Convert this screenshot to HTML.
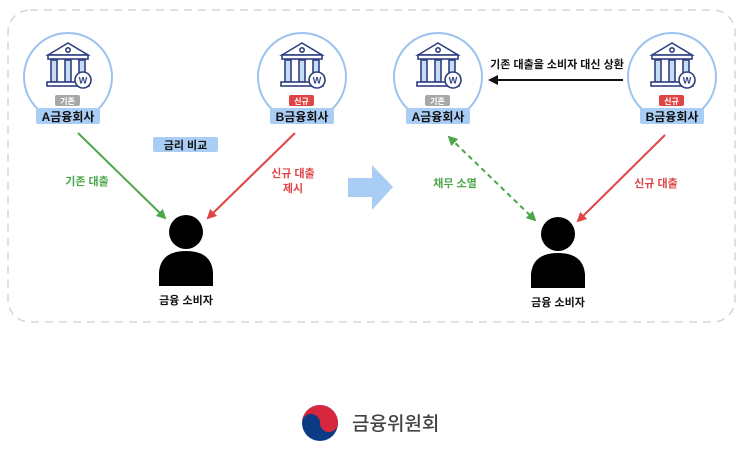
<!DOCTYPE html>
<html><head><meta charset="utf-8"><style>
html,body{margin:0;padding:0;background:#fff;width:743px;height:453px;overflow:hidden}
text{font-family:"Liberation Sans","Noto Sans CJK KR",sans-serif;font-weight:bold}
</style></head><body>
<svg width="743" height="453" viewBox="0 0 743 453" xmlns="http://www.w3.org/2000/svg">
<defs>
<g id="bank" fill="none" stroke="#2e3f80" stroke-width="1.6">
 <path d="M-20,-20 L0,-32 L20,-20 Z" fill="#fff"/>
 <circle cx="0" cy="-25" r="2.2"/>
 <rect x="-20" y="-20" width="40" height="4" fill="#fff"/>
 <rect x="-17" y="-15" width="6" height="22" fill="#c9dcf5"/>
 <rect x="-3" y="-15" width="6" height="22" fill="#c9dcf5"/>
 <rect x="11" y="-15" width="6" height="22" fill="#c9dcf5"/>
 <rect x="-21" y="7" width="42" height="4" fill="#fff"/>
 <circle cx="15" cy="5" r="8" fill="#fff"/>
 <text x="15" y="8.5" font-size="9" fill="#2e3f80" stroke="none" text-anchor="middle">W</text>
</g>
<marker id="ag" markerWidth="10" markerHeight="10" refX="8" refY="5" orient="auto" markerUnits="userSpaceOnUse"><path d="M0,0 L10,5 L0,10 Z" fill="#4ca64a"/></marker>
<marker id="agS" markerWidth="10" markerHeight="10" refX="2" refY="5" orient="auto" markerUnits="userSpaceOnUse"><path d="M10,0 L0,5 L10,10 Z" fill="#4ca64a"/></marker>
<marker id="ar" markerWidth="10" markerHeight="10" refX="8" refY="5" orient="auto" markerUnits="userSpaceOnUse"><path d="M0,0 L10,5 L0,10 Z" fill="#e04545"/></marker>
<marker id="ak" markerWidth="10" markerHeight="10" refX="8" refY="5" orient="auto" markerUnits="userSpaceOnUse"><path d="M0,0 L10,5 L0,10 Z" fill="#111"/></marker>
</defs>
<rect x="8" y="10" width="727" height="312" rx="22" fill="none" stroke="#d6d6d6" stroke-width="1.5" stroke-dasharray="8,6"/>

<!-- left panel -->
<circle cx="68" cy="77" r="44" fill="#fff" stroke="#9cc3ef" stroke-width="2"/>
<use href="#bank" x="68" y="75"/>
<rect x="55" y="95" width="25" height="11" rx="2" fill="#a8a8a8"/>
<text x="67.5" y="104" font-size="8" fill="#fff" text-anchor="middle">기존</text>
<rect x="36" y="108" width="64" height="16" rx="2" fill="#a9cdf5"/>
<text x="68" y="121" font-size="12" fill="#111" text-anchor="middle">A금융회사</text>

<circle cx="302" cy="77" r="44" fill="#fff" stroke="#9cc3ef" stroke-width="2"/>
<use href="#bank" x="302" y="75"/>
<rect x="289" y="95" width="25" height="11" rx="2" fill="#e04545"/>
<text x="301.5" y="104" font-size="8" fill="#fff" text-anchor="middle">신규</text>
<rect x="270" y="108" width="64" height="16" rx="2" fill="#a9cdf5"/>
<text x="302" y="121" font-size="12" fill="#111" text-anchor="middle">B금융회사</text>

<rect x="153" y="137" width="65" height="15" rx="2" fill="#a9cdf5"/>
<text x="185.5" y="149" font-size="11" fill="#111" text-anchor="middle">금리 비교</text>

<line x1="78" y1="133" x2="165" y2="218" stroke="#4ca64a" stroke-width="2" marker-end="url(#ag)"/>
<line x1="295" y1="133" x2="208" y2="218" stroke="#e04545" stroke-width="2" marker-end="url(#ar)"/>
<text x="87" y="185" font-size="11" fill="#4ca64a" text-anchor="middle">기존 대출</text>
<text x="293" y="177" font-size="11" fill="#e04545" text-anchor="middle">신규 대출</text>
<text x="293" y="192" font-size="11" fill="#e04545" text-anchor="middle">제시</text>

<circle cx="186" cy="232" r="17" fill="#000"/>
<path d="M158,287 L158,272 Q160,250 186,250 Q212,250 214,272 L214,287 Z" fill="#000" stroke="#fff" stroke-width="2"/>
<text x="186" y="304" font-size="11" fill="#111" text-anchor="middle">금융 소비자</text>

<!-- big arrow -->
<path d="M348,178 L372,178 L372,165 L393,187 L372,210 L372,197 L348,197 Z" fill="#a9cdf5"/>

<!-- right panel -->
<circle cx="438" cy="77" r="44" fill="#fff" stroke="#9cc3ef" stroke-width="2"/>
<use href="#bank" x="438" y="75"/>
<rect x="425" y="95" width="25" height="11" rx="2" fill="#a8a8a8"/>
<text x="437.5" y="104" font-size="8" fill="#fff" text-anchor="middle">기존</text>
<rect x="406" y="108" width="64" height="16" rx="2" fill="#a9cdf5"/>
<text x="438" y="121" font-size="12" fill="#111" text-anchor="middle">A금융회사</text>

<circle cx="672" cy="77" r="44" fill="#fff" stroke="#9cc3ef" stroke-width="2"/>
<use href="#bank" x="672" y="75"/>
<rect x="659" y="95" width="25" height="11" rx="2" fill="#e04545"/>
<text x="671.5" y="104" font-size="8" fill="#fff" text-anchor="middle">신규</text>
<rect x="640" y="108" width="64" height="16" rx="2" fill="#a9cdf5"/>
<text x="672" y="121" font-size="12" fill="#111" text-anchor="middle">B금융회사</text>

<line x1="623" y1="80" x2="490" y2="80" stroke="#111" stroke-width="2" marker-end="url(#ak)"/>
<text x="557" y="68" font-size="11" fill="#111" text-anchor="middle">기존 대출을 소비자 대신 상환</text>

<line x1="449" y1="137" x2="535" y2="220" stroke="#4ca64a" stroke-width="2" stroke-dasharray="5,4" marker-start="url(#agS)" marker-end="url(#ag)"/>
<line x1="665" y1="135" x2="578" y2="221" stroke="#e04545" stroke-width="2" marker-end="url(#ar)"/>
<text x="455" y="187" font-size="11" fill="#4ca64a" text-anchor="middle">채무 소멸</text>
<text x="656" y="187" font-size="11" fill="#e04545" text-anchor="middle">신규 대출</text>

<circle cx="558" cy="234" r="17" fill="#000"/>
<path d="M530,289 L530,274 Q532,252 558,252 Q584,252 586,274 L586,289 Z" fill="#000" stroke="#fff" stroke-width="2"/>
<text x="558" y="306" font-size="11" fill="#111" text-anchor="middle">금융 소비자</text>

<!-- logo -->
<circle cx="320" cy="423" r="18" fill="#0b3b84"/>
<path d="M302,423 A18,18 0 0 1 338,423 A9,9 0 0 1 320,423 A9,9 0 0 0 302,423 Z" fill="#d7263d"/>
<circle cx="320" cy="423" r="18" fill="none" stroke="#fff" stroke-width="0"/>
<path d="M305,430 A16,16 0 0 0 336,418" fill="none" stroke="#fff" stroke-width="0"/>
<text x="352" y="430" font-size="19" font-weight="normal" fill="#444" style="font-weight:500">금융위원회</text>
</svg>
</body></html>
